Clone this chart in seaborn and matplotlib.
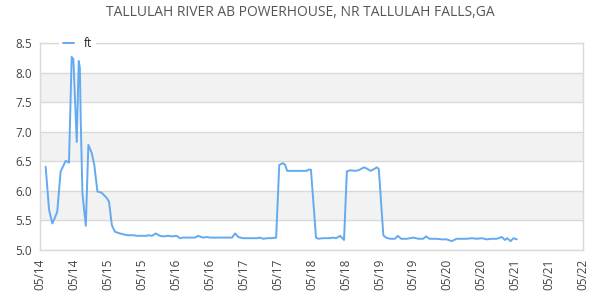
import numpy as np
import pandas as pd
import matplotlib
matplotlib.use("Agg")
import matplotlib.pyplot as plt
import matplotlib.dates as mdates
import seaborn as sns

title = "TALLULAH RIVER AB POWERHOUSE, NR TALLULAH FALLS,GA"
series_name = "ft"
start_date = "2014-05-14 00:00"
end_date = "2014-05-22 00:00"

# hours after start_date
hours = [2.0, 3.2, 4.35, 5.3, 6.1, 7.3, 8.2, 9.1, 10.25, 11.2, 11.8, 13.0, 13.7, 14.1, 14.4,
         15.0, 16.2, 17.1, 18.3, 19.2, 20.3, 21.8, 23.6, 24.4, 25.4, 26.5, 27.6,
         28.3, 30.8, 32.9, 34.3, 37.8, 38.2, 39.6, 40.9, 42.4, 43.5, 45.3, 46.7, 48.3,
         49.5, 50.6, 54.8, 55.9, 57.6, 59.1, 60.1, 67.9, 69.0, 70.1, 71.8, 76.7, 77.8,
         78.9, 80.3, 82.0, 83.5, 84.6, 85.8, 86.6, 87.4, 94.3, 94.9, 95.8, 97.6, 98.4,
         100.1, 102.5, 103.6, 104.7, 106.1, 107.5, 108.5, 109.6, 111.4, 112.6, 114.6,
         115.5, 116.9, 118.1, 119.1, 119.8, 121.4, 122.3, 123.8, 125.5, 126.5, 127.7,
         129.7, 132.0, 133.8, 135.5, 136.5, 137.7, 140.3, 142.0, 143.8, 145.6, 147.3,
         149.1, 150.9, 152.7, 154.4, 156.2, 158.0, 159.7, 161.5, 163.3, 164.4, 165.2,
         166.4, 167.4, 168.6]
ft = [6.41, 5.68, 5.45, 5.55, 5.65, 6.33, 6.42, 6.51, 6.48, 8.27, 8.23, 6.83, 8.20, 8.08, 7.20,
      5.96, 5.41, 6.78, 6.64, 6.44, 5.99, 5.97, 5.88, 5.82, 5.42, 5.31, 5.29,
      5.28, 5.25, 5.25, 5.24, 5.24, 5.25, 5.24, 5.28, 5.24, 5.23, 5.24, 5.23, 5.24,
      5.20, 5.21, 5.21, 5.24, 5.21, 5.22, 5.21, 5.21, 5.28, 5.22, 5.20, 5.20, 5.21,
      5.19, 5.20, 5.20, 5.21, 6.44, 6.47, 6.45, 6.34, 6.34, 6.36, 6.36, 5.21, 5.19,
      5.20, 5.20, 5.21, 5.20, 5.24, 5.17, 6.33, 6.35, 6.34, 6.35, 6.40,
      6.38, 6.34, 6.37, 6.40, 6.37, 5.25, 5.21, 5.19, 5.19, 5.24, 5.19,
      5.19, 5.21, 5.19, 5.19, 5.23, 5.19, 5.19, 5.18, 5.18, 5.15, 5.19,
      5.19, 5.19, 5.20, 5.19, 5.20, 5.18, 5.19, 5.19, 5.22, 5.17, 5.20,
      5.15, 5.20, 5.18]

y_ticks = [5.0, 5.5, 6.0, 6.5, 7.0, 7.5, 8.0, 8.5]

base = pd.Timestamp(start_date)
df = pd.DataFrame({"time": base + pd.to_timedelta(hours, unit="h"), series_name: ft})

sns.set_style("white")
plt.rcParams["font.family"] = ["Open Sans", "DejaVu Sans"]

fig = plt.figure(figsize=(6, 3), dpi=100)
ax = fig.add_axes([40 / 600, 50 / 300, 543 / 600, 206.7 / 300])

line_color = "#64aaf0"
sns.lineplot(data=df, x="time", y=series_name, ax=ax, color=line_color, lw=1.4,
             label=series_name, zorder=3)

# alternating bands
for i in range(len(y_ticks) - 1):
    if i % 2 == 1:
        ax.axhspan(y_ticks[i], y_ticks[i + 1], color="#f2f2f2", zorder=0, lw=0)
for yv in y_ticks:
    ax.axhline(yv, color="#d9d9d9", lw=1.0, zorder=1)

ax.set_ylim(5.0, 8.5)
ax.set_yticks(y_ticks)
ax.set_yticklabels([f"{v:.1f}" for v in y_ticks])
ax.set_xlim(pd.Timestamp(start_date), pd.Timestamp(end_date))
ax.xaxis.set_major_locator(mdates.HourLocator(byhour=[0, 12]))
ax.xaxis.set_major_formatter(mdates.DateFormatter("%m/%d"))
ax.tick_params(axis="x", rotation=90, length=0, labelsize=8.5, colors="#444444", pad=6)
ax.tick_params(axis="y", length=0, labelsize=8.5, colors="#444444", pad=6)
ax.set_xlabel("")
ax.set_ylabel("")
for s in ax.spines.values():
    s.set_color("#d9d9d9")
    s.set_linewidth(1.0)

leg = ax.legend(loc="center left", bbox_to_anchor=(0.035, 1.0), frameon=True,
                fontsize=8.5, handlelength=1.0, handletextpad=0.8, borderpad=0.3,
                borderaxespad=0)
leg.get_frame().set_facecolor("white")
leg.get_frame().set_edgecolor("none")
leg.get_frame().set_alpha(1.0)
leg.get_frame().set_boxstyle("square", pad=0.0)
for t in leg.get_texts():
    t.set_color("#222222")

fig.suptitle(title, x=0.5, y=0.985, fontsize=10, color="#555555", va="top")

fig.savefig("out.png", dpi=100)
